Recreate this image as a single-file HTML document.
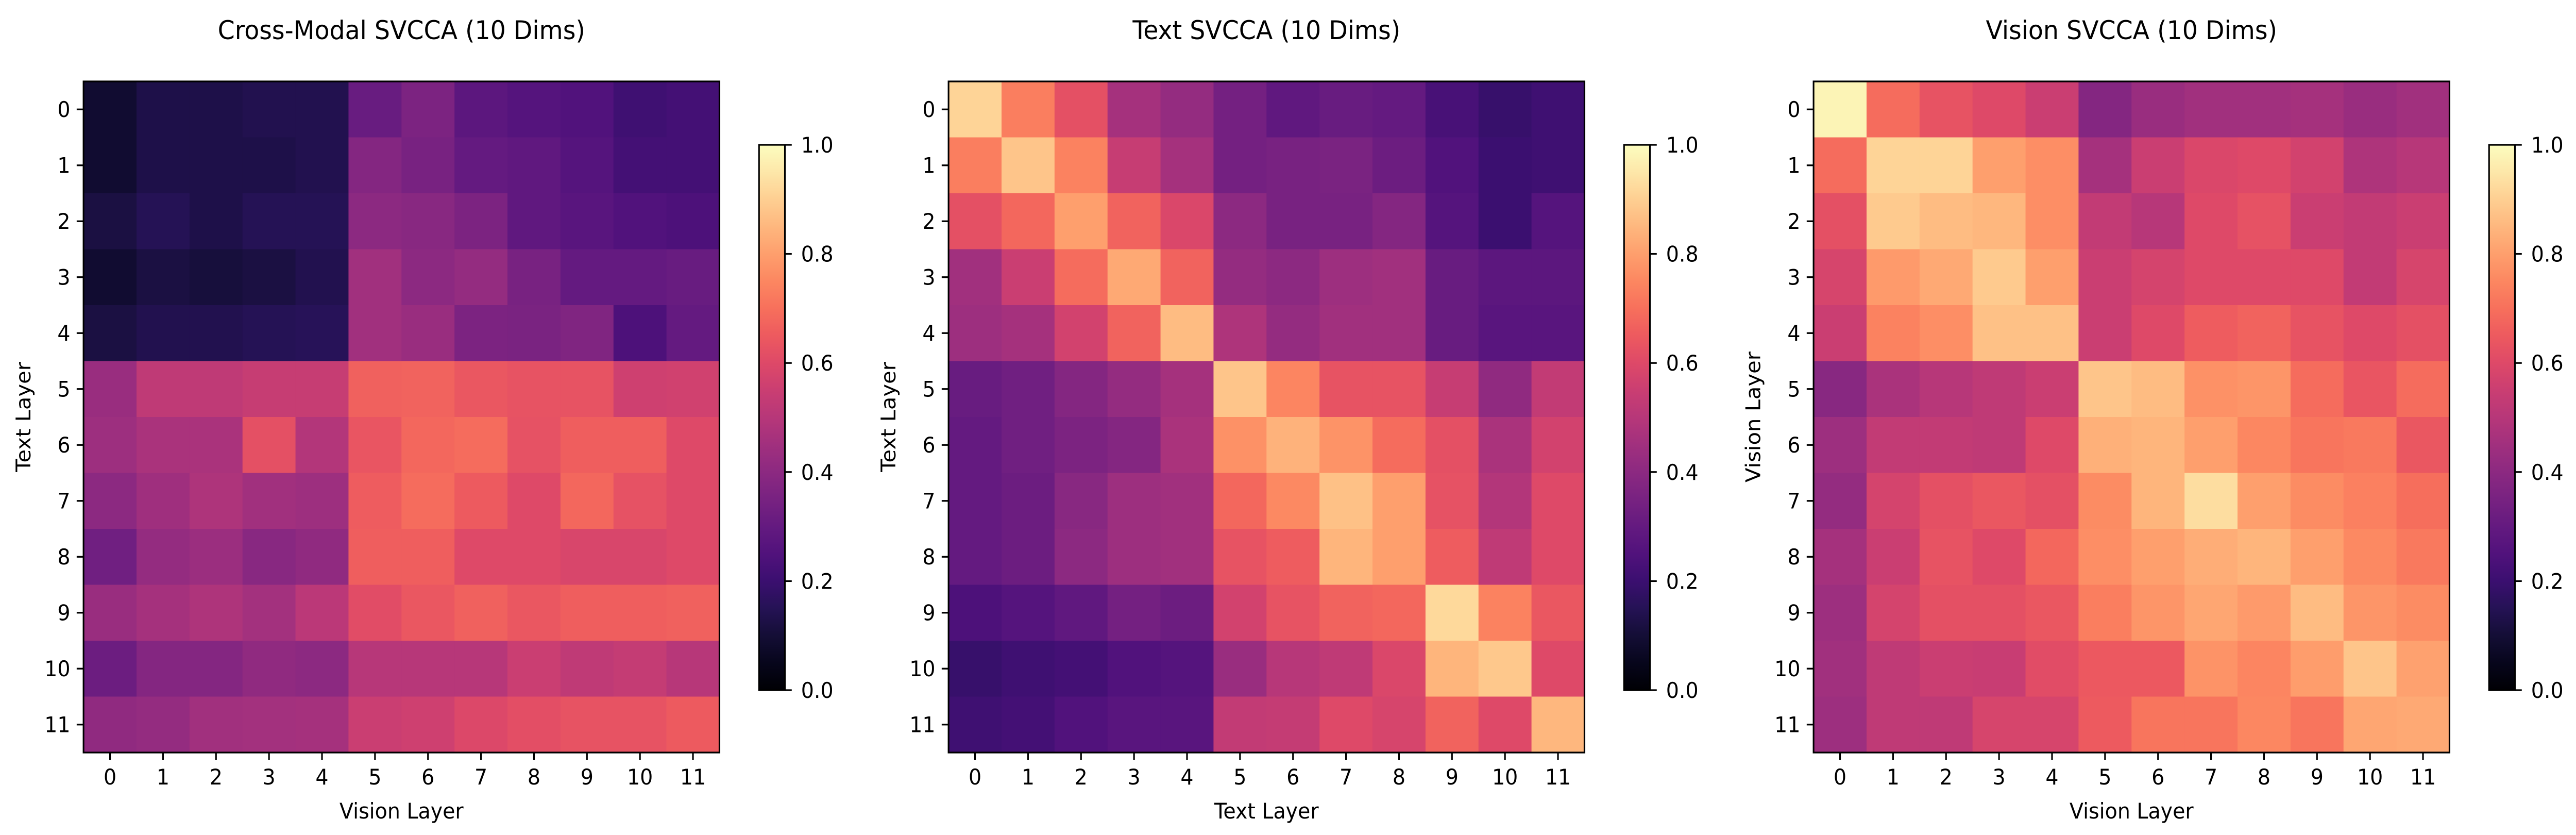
<!DOCTYPE html>
<html><head><meta charset="utf-8">
<style>
html,body{margin:0;padding:0;background:#fff;overflow:hidden;width:100%;height:100%;}
svg{display:block;width:100vw;height:100vh;font-family:"DejaVu Sans","Liberation Sans",sans-serif;}
</style></head>
<body>
<svg id="fig" xmlns="http://www.w3.org/2000/svg" viewBox="0 0 5274 1620" preserveAspectRatio="none">
<defs>
<linearGradient id="magma" x1="0" y1="1" x2="0" y2="0"></linearGradient>
</defs>
</svg>
<script>
const layerLabels = ["0","1","2","3","4","5","6","7","8","9","10","11"];
const colorbarTicks = [0.0, 0.2, 0.4, 0.6, 0.8, 1.0];
const panelTitles = ["Cross-Modal SVCCA (10 Dims)", "Text SVCCA (10 Dims)", "Vision SVCCA (10 Dims)"];
const xTitles = ["Vision Layer", "Text Layer", "Vision Layer"];
const yTitles = ["Text Layer", "Text Layer", "Vision Layer"];
const crossModal = [
[0.09,0.13,0.13,0.14,0.14,0.31,0.36,0.28,0.26,0.25,0.21,0.22],
[0.09,0.13,0.13,0.13,0.14,0.38,0.35,0.30,0.29,0.26,0.22,0.22],
[0.12,0.15,0.13,0.15,0.15,0.40,0.39,0.36,0.29,0.27,0.25,0.24],
[0.09,0.12,0.11,0.12,0.14,0.45,0.40,0.42,0.35,0.30,0.30,0.31],
[0.12,0.14,0.14,0.15,0.155,0.45,0.43,0.36,0.355,0.37,0.24,0.30],
[0.43,0.52,0.52,0.54,0.54,0.665,0.67,0.64,0.63,0.63,0.56,0.565],
[0.44,0.47,0.47,0.62,0.49,0.635,0.68,0.69,0.625,0.66,0.66,0.60],
[0.40,0.445,0.48,0.45,0.44,0.655,0.69,0.65,0.60,0.68,0.625,0.60],
[0.33,0.42,0.435,0.39,0.41,0.66,0.66,0.60,0.60,0.585,0.585,0.60],
[0.43,0.46,0.48,0.455,0.51,0.61,0.64,0.665,0.64,0.66,0.66,0.665],
[0.32,0.38,0.38,0.41,0.40,0.50,0.50,0.50,0.55,0.52,0.535,0.50],
[0.41,0.42,0.45,0.455,0.46,0.55,0.56,0.595,0.615,0.63,0.63,0.65]
];
const textSvcca = [
[0.91,0.73,0.62,0.46,0.42,0.34,0.29,0.31,0.30,0.23,0.19,0.21],
[0.73,0.88,0.74,0.54,0.46,0.34,0.35,0.355,0.32,0.25,0.20,0.21],
[0.62,0.68,0.80,0.67,0.59,0.40,0.35,0.35,0.38,0.26,0.20,0.26],
[0.45,0.55,0.69,0.82,0.67,0.42,0.40,0.44,0.45,0.31,0.28,0.28],
[0.44,0.46,0.57,0.67,0.86,0.48,0.42,0.45,0.45,0.31,0.27,0.27],
[0.31,0.33,0.38,0.42,0.46,0.88,0.745,0.63,0.63,0.54,0.41,0.53],
[0.30,0.33,0.36,0.38,0.47,0.77,0.84,0.775,0.69,0.62,0.47,0.57],
[0.30,0.32,0.39,0.44,0.45,0.68,0.755,0.87,0.80,0.625,0.49,0.60],
[0.30,0.32,0.40,0.44,0.45,0.63,0.655,0.845,0.80,0.655,0.52,0.60],
[0.24,0.26,0.29,0.34,0.32,0.57,0.63,0.67,0.68,0.92,0.74,0.64],
[0.19,0.21,0.22,0.25,0.26,0.43,0.50,0.52,0.59,0.845,0.885,0.60],
[0.21,0.22,0.25,0.27,0.27,0.53,0.535,0.60,0.58,0.67,0.60,0.85]
];
const visionSvcca = [
[0.98,0.69,0.63,0.60,0.55,0.38,0.43,0.45,0.45,0.46,0.43,0.45],
[0.69,0.91,0.91,0.80,0.765,0.46,0.55,0.59,0.60,0.57,0.48,0.50],
[0.62,0.89,0.86,0.85,0.765,0.53,0.50,0.60,0.625,0.55,0.53,0.55],
[0.58,0.79,0.82,0.89,0.80,0.55,0.575,0.60,0.60,0.60,0.53,0.58],
[0.55,0.74,0.765,0.87,0.87,0.55,0.60,0.655,0.67,0.63,0.60,0.62],
[0.39,0.47,0.50,0.52,0.55,0.88,0.86,0.77,0.78,0.69,0.635,0.69],
[0.44,0.53,0.53,0.52,0.60,0.835,0.845,0.80,0.75,0.71,0.72,0.64],
[0.42,0.575,0.62,0.64,0.62,0.76,0.845,0.93,0.80,0.76,0.735,0.695],
[0.46,0.55,0.63,0.60,0.68,0.765,0.80,0.83,0.845,0.80,0.755,0.72],
[0.44,0.575,0.62,0.62,0.64,0.73,0.78,0.815,0.79,0.86,0.78,0.76],
[0.45,0.52,0.55,0.545,0.61,0.645,0.645,0.775,0.745,0.795,0.88,0.805],
[0.44,0.52,0.52,0.58,0.58,0.65,0.71,0.71,0.75,0.71,0.815,0.82]
];
const panelNames = ["cross-modal","text","vision"];
const matrices = [crossModal, textSvcca, visionSvcca];

const magmaStops = ["#000004","#07061c","#140e36","#251255","#3b0f70","#51127c","#641a80","#782281","#8c2981","#a1307e","#b73779","#ca3e72","#de4968","#ed5a5f","#f7705c","#fc8761","#fe9f6d","#feb77e","#fecf92","#fde7a9","#fcfdbf"];
function hex2rgb(h){return [parseInt(h.substr(1,2),16),parseInt(h.substr(3,2),16),parseInt(h.substr(5,2),16)];}
function magma(v){
  v=Math.max(0,Math.min(1,v));
  const p=v*(magmaStops.length-1), i=Math.min(Math.floor(p),magmaStops.length-2), t=p-i;
  const a=hex2rgb(magmaStops[i]), b=hex2rgb(magmaStops[i+1]);
  return "rgb("+a.map((c,k)=>Math.round(c+(b[k]-c)*t)).join(",")+")";
}
const NS="http://www.w3.org/2000/svg";
const svg=document.getElementById("fig");
const grad=document.getElementById("magma");
magmaStops.forEach((c,i)=>{const s=document.createElementNS(NS,"stop");s.setAttribute("offset",(i/(magmaStops.length-1)));s.setAttribute("stop-color",c);grad.appendChild(s);});
function mk(tag,attrs,parent){const e=document.createElementNS(NS,tag);for(const k in attrs)e.setAttribute(k,attrs[k]);(parent||svg).appendChild(e);return e;}

const AX_LEFT=171, AX_TOP=158, AX_SIZE=1302, PANEL_DX=1771;
const CB_LEFT=1554, CB_W=53, CB_TOP=281, CB_BOT=1339;
const FS=41.7;

matrices.forEach((mat,p)=>{
  const dx=p*PANEL_DX, x0=AX_LEFT+dx, n=layerLabels.length, cell=AX_SIZE/n;
  const xs=j=>x0+j*cell, ys=i=>AX_TOP+i*cell;
  const g=mk("g",{});
  
  
  const title=mk("text",{x:x0+AX_SIZE/2,y:76,"text-anchor":"middle","font-size":50,fill:"#000"},g);
  title.textContent=panelTitles[p];
  
  
  mat.forEach((row,i)=>row.forEach((v,j)=>{
    const r=mk("rect",{x:xs(j),y:ys(i),width:cell+0.6,height:cell+0.6,fill:magma(v)},g);
    
    
  }));
  const frame=mk("rect",{x:x0,y:AX_TOP,width:AX_SIZE,height:AX_SIZE,fill:"none",stroke:"#000","stroke-width":3.3},g);
  
  
  layerLabels.forEach((lab,k)=>{
    const cy=ys(k)+cell/2, cx=xs(k)+cell/2;
    mk("line",{x1:x0-14,x2:x0,y1:cy,y2:cy,stroke:"#000","stroke-width":3.3},g);
    const yl=mk("text",{x:x0-27,y:cy+15,"text-anchor":"end","font-size":FS},g);
    yl.textContent=lab;
    
    
    mk("line",{x1:cx,x2:cx,y1:AX_TOP+AX_SIZE,y2:AX_TOP+AX_SIZE+14,stroke:"#000","stroke-width":3.3},g);
    const xl=mk("text",{x:cx,y:1522,"text-anchor":"middle","font-size":FS},g);
    xl.textContent=lab;
    
    
  });
  const xt=mk("text",{x:x0+AX_SIZE/2,y:1588,"text-anchor":"middle","font-size":FS},g);
  xt.textContent=xTitles[p];
  
  
  const ytx=62+dx, yty=AX_TOP+AX_SIZE/2;
  const yt=mk("text",{x:ytx,y:yty,"text-anchor":"middle","font-size":FS,transform:"rotate(-90 "+ytx+" "+yty+")"},g);
  yt.textContent=yTitles[p];
  
  
  const cbx=CB_LEFT+dx;
  const cb=mk("rect",{x:cbx,y:CB_TOP,width:CB_W,height:CB_BOT-CB_TOP,fill:"url(#magma)",stroke:"#000","stroke-width":3.3},g);
  
  
  const cbY=v=>CB_BOT-(CB_BOT-CB_TOP)*v;
  colorbarTicks.forEach(t=>{
    mk("line",{x1:cbx+CB_W,x2:cbx+CB_W+14,y1:cbY(t),y2:cbY(t),stroke:"#000","stroke-width":3.3},g);
    const tl=mk("text",{x:cbx+86,y:cbY(t)+15,"font-size":FS},g);
    tl.textContent=t.toFixed(1);
    
    
  });
});
</script>
</body></html>
